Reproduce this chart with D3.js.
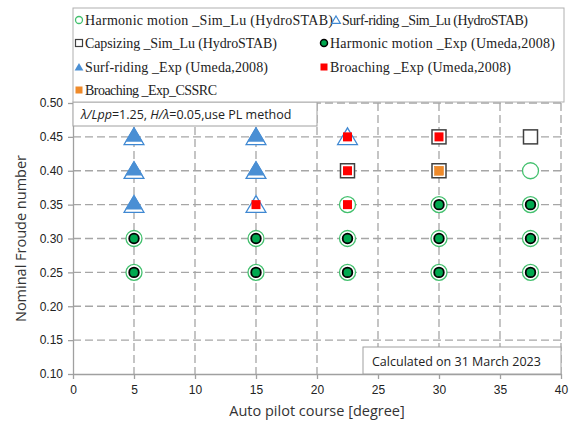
<!DOCTYPE html>
<html>
<head>
<meta charset="utf-8">
<script src="https://cdn.jsdelivr.net/npm/d3@7"></script>
<style>
  body { margin: 0; background: #fff; }
  svg { display: block; }
</style>
</head>
<body>
<svg id="chart"></svg>
<script>
// Data: [autopilot course (deg), nominal Froude number]
const harmonicSim = [[5, 0.30], [5, 0.25], [15, 0.30], [15, 0.25], [22.5, 0.35], [22.5, 0.30], [22.5, 0.25],
  [30, 0.35], [30, 0.30], [30, 0.25], [37.5, 0.40], [37.5, 0.35], [37.5, 0.30], [37.5, 0.25]];
const surfSim = [[5, 0.45], [5, 0.40], [5, 0.35], [15, 0.45], [15, 0.40], [15, 0.35], [22.5, 0.45]];
const capsizeSim = [[22.5, 0.40], [30, 0.45], [30, 0.40], [37.5, 0.45]];
const harmonicExp = [[5, 0.30], [5, 0.25], [15, 0.30], [15, 0.25], [22.5, 0.30], [22.5, 0.25],
  [30, 0.35], [30, 0.30], [30, 0.25], [37.5, 0.35], [37.5, 0.30], [37.5, 0.25]];
const surfExp = [[5, 0.45], [5, 0.40], [5, 0.35], [15, 0.45], [15, 0.40]];
const broachExp = [[15, 0.35], [22.5, 0.45], [22.5, 0.40], [22.5, 0.35], [30, 0.45]];
const broachCSSRC = [[30, 0.40]];

const xTicks = [0, 5, 10, 15, 20, 25, 30, 35, 40];
const yTicks = [0.10, 0.15, 0.20, 0.25, 0.30, 0.35, 0.40, 0.45, 0.50];

const legendLabels = [
  'Harmonic motion _Sim_Lu (HydroSTAB)',
  'Surf-riding _Sim_Lu (HydroSTAB)',
  'Capsizing _Sim_Lu (HydroSTAB)',
  'Harmonic motion _Exp (Umeda,2008)',
  'Surf-riding _Exp (Umeda,2008)',
  'Broaching _Exp (Umeda,2008)',
  'Broaching _Exp_CSSRC'
];

const width = 574;
const height = 423;
const plot = { left: 73, right: 561, top: 103, bottom: 374 };

const green = '#43c06e';
const dotGreen = '#00a84f';
const blue = '#3f88d2';
const red = '#ff0000';
const orange = '#ef8a2a';
const gridColor = '#a6a6a6';

const svg = d3.select('#chart')
  .attr('width', width)
  .attr('height', height);

const x = d3.scaleLinear().domain([0, 40]).range([plot.left, plot.right]);
const y = d3.scaleLinear().domain([0.10, 0.50]).range([plot.bottom, plot.top]);

// dashed grid
svg.append('g')
  .selectAll('line')
  .data(yTicks.slice(1))
  .join('line')
  .attr('x1', plot.left).attr('x2', plot.right)
  .attr('y1', d => y(d)).attr('y2', d => y(d))
  .attr('stroke', gridColor).attr('stroke-width', 1.3)
  .attr('stroke-dasharray', '8,4');

svg.append('g')
  .selectAll('line')
  .data(xTicks.slice(1))
  .join('line')
  .attr('x1', d => x(d)).attr('x2', d => x(d))
  .attr('y1', plot.top).attr('y2', plot.bottom)
  .attr('stroke', gridColor).attr('stroke-width', 1.3)
  .attr('stroke-dasharray', '8,4');

// axes
const xAxis = svg.append('g')
  .attr('transform', `translate(0, ${plot.bottom})`)
  .call(d3.axisBottom(x).tickValues(xTicks).tickSize(5).tickPadding(6).tickSizeOuter(0));

const yAxis = svg.append('g')
  .attr('transform', `translate(${plot.left}, 0)`)
  .call(d3.axisLeft(y).tickValues(yTicks).tickFormat(d3.format('.2f')).tickSize(5).tickPadding(5).tickSizeOuter(0));

[xAxis, yAxis].forEach(a => {
  a.select('.domain').attr('stroke', '#a0a0a0').attr('stroke-width', 1.3);
  a.selectAll('.tick line').attr('stroke', '#a0a0a0').attr('stroke-width', 1.3);
  a.selectAll('.tick text')
    .attr('font-family', 'Liberation Sans, Arial, sans-serif')
    .attr('font-size', 12)
    .attr('fill', '#222');
});

svg.append('text')
  .attr('x', (plot.left + plot.right) / 2)
  .attr('y', 416)
  .attr('text-anchor', 'middle')
  .attr('font-family', 'Open Sans, sans-serif')
  .attr('font-size', 14.5)
  .attr('fill', '#333')
  .text('Auto pilot course [degree]');

svg.append('text')
  .attr('transform', `translate(26, ${(plot.top + plot.bottom) / 2}) rotate(-90)`)
  .attr('text-anchor', 'middle')
  .attr('font-family', 'Open Sans, sans-serif')
  .attr('font-size', 14.5)
  .attr('fill', '#333')
  .text('Nominal Froude number');

// markers
const marks = svg.append('g');
const tri = (r) => `M0,${-r} L${r * 1.1},${r * 0.85} L${-r * 1.1},${r * 0.85} Z`;

marks.selectAll('.hs').data(harmonicSim).join('circle')
  .attr('cx', d => x(d[0])).attr('cy', d => y(d[1])).attr('r', 8)
  .attr('fill', '#fff').attr('stroke', green).attr('stroke-width', 1.3);

marks.selectAll('.ss').data(surfSim).join('path')
  .attr('transform', d => `translate(${x(d[0])},${y(d[1])})`)
  .attr('d', tri(9))
  .attr('fill', '#fff').attr('stroke', blue).attr('stroke-width', 1.3);

marks.selectAll('.cs').data(capsizeSim).join('rect')
  .attr('x', d => x(d[0]) - 7).attr('y', d => y(d[1]) - 7)
  .attr('width', 14).attr('height', 14)
  .attr('fill', '#fff').attr('stroke', '#404040').attr('stroke-width', 1.5);

marks.selectAll('.he').data(harmonicExp).join('circle')
  .attr('cx', d => x(d[0])).attr('cy', d => y(d[1])).attr('r', 4.8)
  .attr('fill', dotGreen).attr('stroke', '#000').attr('stroke-width', 1.8);

marks.selectAll('.se').data(surfExp).join('path')
  .attr('transform', d => `translate(${x(d[0])},${y(d[1]) - 2})`)
  .attr('d', tri(8))
  .attr('fill', '#4a8fd4');

marks.selectAll('.be').data(broachExp).join('rect')
  .attr('x', d => x(d[0]) - 4.5).attr('y', d => y(d[1]) - 4.5)
  .attr('width', 9).attr('height', 9)
  .attr('fill', red);

marks.selectAll('.bc').data(broachCSSRC).join('rect')
  .attr('x', d => x(d[0]) - 4.5).attr('y', d => y(d[1]) - 4.5)
  .attr('width', 9).attr('height', 9)
  .attr('fill', orange).attr('stroke', '#e07a1a').attr('stroke-width', 0.5);

// annotation boxes
const note = svg.append('g');
note.append('rect')
  .attr('x', plot.left).attr('y', 102).attr('width', 244).attr('height', 24)
  .attr('fill', '#fff').attr('stroke', '#a0a0a0');
const noteText = note.append('text')
  .attr('x', plot.left + 8).attr('y', 119)
  .attr('font-family', 'Open Sans, sans-serif')
  .attr('font-size', 12.5)
  .attr('fill', '#222');
noteText.append('tspan').attr('font-style', 'italic').text('λ/Lpp');
noteText.append('tspan').text('=1.25, ');
noteText.append('tspan').attr('font-style', 'italic').text('H/λ');
noteText.append('tspan').text('=0.05,use PL method');

note.append('rect')
  .attr('x', 363).attr('y', 347).attr('width', plot.right - 363).attr('height', 27)
  .attr('fill', '#fff').attr('stroke', '#a0a0a0');
note.append('text')
  .attr('x', 372).attr('y', 366)
  .attr('font-family', 'Open Sans, sans-serif')
  .attr('font-size', 12.5)
  .attr('fill', '#222')
  .text('Calculated on 31 March 2023');

// legend
const legend = svg.append('g');
legend.append('rect')
  .attr('x', plot.left).attr('y', 8).attr('width', 564 - plot.left).attr('height', 94)
  .attr('fill', '#fff').attr('stroke', '#b0b0b0');

const rowY = [20, 43, 67, 90];
const legendItems = [
  { row: 0, mx: 79, len: 248 },
  { row: 0, mx: 336, len: 186 },
  { row: 1, mx: 79, len: 192 },
  { row: 1, mx: 324, len: 225 },
  { row: 2, mx: 79, len: 183 },
  { row: 2, mx: 324, len: 181 },
  { row: 3, mx: 79, len: 132 }
];

legendItems.forEach((item, i) => {
  const g = legend.append('g').attr('transform', `translate(${item.mx},${rowY[item.row]})`);
  if (i === 0) {
    g.append('circle').attr('r', 3.5).attr('fill', '#fff').attr('stroke', green).attr('stroke-width', 1.3);
  } else if (i === 1) {
    g.append('path').attr('d', tri(4)).attr('fill', '#fff').attr('stroke', blue).attr('stroke-width', 1.2);
  } else if (i === 2) {
    g.append('rect').attr('x', -3.5).attr('y', -3.5).attr('width', 7).attr('height', 7)
      .attr('fill', '#fff').attr('stroke', '#404040').attr('stroke-width', 1.2);
  } else if (i === 3) {
    g.append('circle').attr('r', 3.5).attr('fill', dotGreen).attr('stroke', '#000').attr('stroke-width', 1.5);
  } else if (i === 4) {
    g.append('path').attr('d', tri(4)).attr('fill', '#4a8fd4');
  } else if (i === 5) {
    g.append('rect').attr('x', -3.5).attr('y', -3.5).attr('width', 7).attr('height', 7).attr('fill', red);
  } else {
    g.append('rect').attr('x', -3.5).attr('y', -3.5).attr('width', 7).attr('height', 7).attr('fill', orange);
  }
  g.append('text')
    .attr('x', 6).attr('y', 5)
    .attr('font-family', 'Liberation Serif, serif')
    .attr('font-size', 14)
    .attr('fill', '#222')
    .attr('textLength', item.len)
    .attr('lengthAdjust', 'spacing')
    .text(legendLabels[i]);
});
</script>
</body>
</html>
